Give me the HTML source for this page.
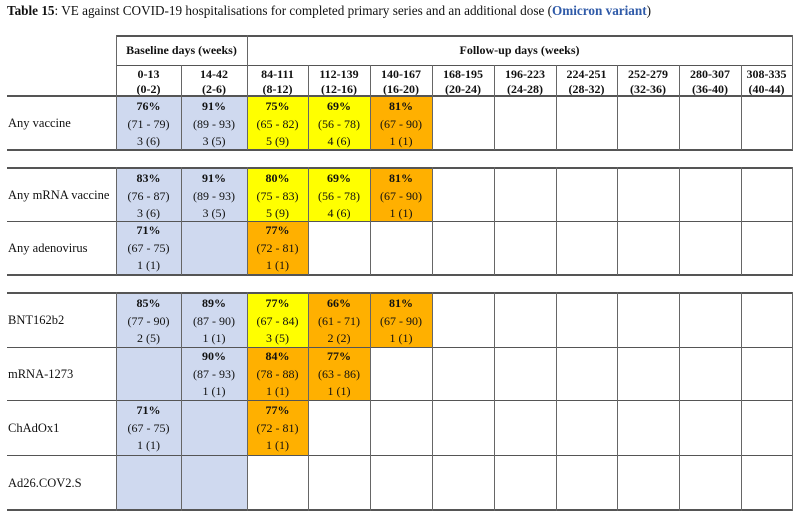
<!DOCTYPE html>
<html><head><meta charset="utf-8"><style>
body{margin:0;width:800px;height:519px;background:#fff;position:relative;overflow:hidden;font-family:"Liberation Serif",serif;color:#111}
.t{position:absolute;left:7px;top:3px;font-size:13.2px;white-space:nowrap}
.c{position:absolute;text-align:center;font-size:12px;line-height:17.5px;padding-top:1px;box-sizing:border-box}
.c b{font-weight:bold}
.B{background:#cfd9ef}.Y{background:#ffff00}.O{background:#ffb000}
.h{position:absolute;height:2px;background:#555}
.v{position:absolute;width:1px;background:#666}
.l{position:absolute;left:8px;font-size:12.5px;line-height:16px}
.hd{position:absolute;text-align:center;font-size:12px;font-weight:bold;line-height:15px}
</style></head><body>
<div class="t"><b>Table 15</b>: VE against COVID-19 hospitalisations for completed primary series and an additional dose (<b style="color:#2f5aa8">Omicron variant</b>)</div>

<div class="hd" style="left:116px;top:43px;width:131px">Baseline days (weeks)</div>
<div class="hd" style="left:247px;top:43px;width:545px">Follow-up days (weeks)</div>
<div class="hd" style="left:116px;top:67px;width:65px">0-13<br>(0-2)</div>
<div class="hd" style="left:181px;top:67px;width:66px">14-42<br>(2-6)</div>
<div class="hd" style="left:247px;top:67px;width:61px">84-111<br>(8-12)</div>
<div class="hd" style="left:308px;top:67px;width:62px">112-139<br>(12-16)</div>
<div class="hd" style="left:370px;top:67px;width:62px">140-167<br>(16-20)</div>
<div class="hd" style="left:432px;top:67px;width:62px">168-195<br>(20-24)</div>
<div class="hd" style="left:494px;top:67px;width:62px">196-223<br>(24-28)</div>
<div class="hd" style="left:556px;top:67px;width:61px">224-251<br>(28-32)</div>
<div class="hd" style="left:617px;top:67px;width:62px">252-279<br>(32-36)</div>
<div class="hd" style="left:679px;top:67px;width:62px">280-307<br>(36-40)</div>
<div class="hd" style="left:741px;top:67px;width:51px">308-335<br>(40-44)</div>

<div class="l" style="top:115px">Any vaccine</div>
<div class="c B" style="left:116px;top:97px;width:65px;height:53px"><b>76%</b><br>(71 - 79)<br>3 (6)</div>
<div class="c B" style="left:181px;top:97px;width:66px;height:53px"><b>91%</b><br>(89 - 93)<br>3 (5)</div>
<div class="c Y" style="left:247px;top:97px;width:61px;height:53px"><b>75%</b><br>(65 - 82)<br>5 (9)</div>
<div class="c Y" style="left:308px;top:97px;width:62px;height:53px"><b>69%</b><br>(56 - 78)<br>4 (6)</div>
<div class="c O" style="left:370px;top:97px;width:62px;height:53px"><b>81%</b><br>(67 - 90)<br>1 (1)</div>

<div class="l" style="top:187px">Any mRNA vaccine</div>
<div class="c B" style="left:116px;top:169px;width:65px;height:52px"><b>83%</b><br>(76 - 87)<br>3 (6)</div>
<div class="c B" style="left:181px;top:169px;width:66px;height:52px"><b>91%</b><br>(89 - 93)<br>3 (5)</div>
<div class="c Y" style="left:247px;top:169px;width:61px;height:52px"><b>80%</b><br>(75 - 83)<br>5 (9)</div>
<div class="c Y" style="left:308px;top:169px;width:62px;height:52px"><b>69%</b><br>(56 - 78)<br>4 (6)</div>
<div class="c O" style="left:370px;top:169px;width:62px;height:52px"><b>81%</b><br>(67 - 90)<br>1 (1)</div>
<div class="l" style="top:240px">Any adenovirus</div>
<div class="c B" style="left:116px;top:221px;width:65px;height:54px"><b>71%</b><br>(67 - 75)<br>1 (1)</div>
<div class="c B" style="left:181px;top:221px;width:66px;height:54px"></div>
<div class="c O" style="left:247px;top:221px;width:61px;height:54px"><b>77%</b><br>(72 - 81)<br>1 (1)</div>

<div class="l" style="top:312px">BNT162b2</div>
<div class="c B" style="left:116px;top:294px;width:65px;height:53px"><b>85%</b><br>(77 - 90)<br>2 (5)</div>
<div class="c B" style="left:181px;top:294px;width:66px;height:53px"><b>89%</b><br>(87 - 90)<br>1 (1)</div>
<div class="c Y" style="left:247px;top:294px;width:61px;height:53px"><b>77%</b><br>(67 - 84)<br>3 (5)</div>
<div class="c O" style="left:308px;top:294px;width:62px;height:53px"><b>66%</b><br>(61 - 71)<br>2 (2)</div>
<div class="c O" style="left:370px;top:294px;width:62px;height:53px"><b>81%</b><br>(67 - 90)<br>1 (1)</div>
<div class="l" style="top:366px">mRNA-1273</div>
<div class="c B" style="left:116px;top:347px;width:65px;height:54px"></div>
<div class="c B" style="left:181px;top:347px;width:66px;height:54px"><b>90%</b><br>(87 - 93)<br>1 (1)</div>
<div class="c O" style="left:247px;top:347px;width:61px;height:54px"><b>84%</b><br>(78 - 88)<br>1 (1)</div>
<div class="c O" style="left:308px;top:347px;width:62px;height:54px"><b>77%</b><br>(63 - 86)<br>1 (1)</div>
<div class="l" style="top:420px">ChAdOx1</div>
<div class="c B" style="left:116px;top:401px;width:65px;height:54px"><b>71%</b><br>(67 - 75)<br>1 (1)</div>
<div class="c B" style="left:181px;top:401px;width:66px;height:54px"></div>
<div class="c O" style="left:247px;top:401px;width:61px;height:54px"><b>77%</b><br>(72 - 81)<br>1 (1)</div>
<div class="l" style="top:475px">Ad26.COV2.S</div>
<div class="c B" style="left:116px;top:455px;width:65px;height:55px"></div>
<div class="c B" style="left:181px;top:455px;width:66px;height:55px"></div>

<div class="h" style="left:116px;top:35px;width:677px"></div>
<div class="h" style="left:116px;top:65px;width:677px;height:1px"></div>
<div class="h" style="left:7px;top:95px;width:786px"></div>
<div class="h" style="left:7px;top:149px;width:786px"></div>
<div class="h" style="left:7px;top:167px;width:786px"></div>
<div class="h" style="left:7px;top:221px;width:786px;height:1px"></div>
<div class="h" style="left:7px;top:274px;width:786px"></div>
<div class="h" style="left:7px;top:292px;width:786px"></div>
<div class="h" style="left:7px;top:347px;width:786px;height:1px"></div>
<div class="h" style="left:7px;top:400px;width:786px;height:1px"></div>
<div class="h" style="left:7px;top:455px;width:786px;height:1px"></div>
<div class="h" style="left:7px;top:509px;width:786px"></div>

<div class="v" style="left:116px;top:35px;height:115px"></div>
<div class="v" style="left:247px;top:35px;height:115px"></div>
<div class="v" style="left:792px;top:35px;height:115px"></div>
<div class="v" style="left:181px;top:65px;height:85px"></div>
<div class="v" style="left:308px;top:65px;height:85px"></div>
<div class="v" style="left:370px;top:65px;height:85px"></div>
<div class="v" style="left:432px;top:65px;height:85px"></div>
<div class="v" style="left:494px;top:65px;height:85px"></div>
<div class="v" style="left:556px;top:65px;height:85px"></div>
<div class="v" style="left:617px;top:65px;height:85px"></div>
<div class="v" style="left:679px;top:65px;height:85px"></div>
<div class="v" style="left:741px;top:65px;height:85px"></div>
<div class="v" style="left:116px;top:167px;height:108px"></div>
<div class="v" style="left:181px;top:167px;height:108px"></div>
<div class="v" style="left:247px;top:167px;height:108px"></div>
<div class="v" style="left:308px;top:167px;height:108px"></div>
<div class="v" style="left:370px;top:167px;height:108px"></div>
<div class="v" style="left:432px;top:167px;height:108px"></div>
<div class="v" style="left:494px;top:167px;height:108px"></div>
<div class="v" style="left:556px;top:167px;height:108px"></div>
<div class="v" style="left:617px;top:167px;height:108px"></div>
<div class="v" style="left:679px;top:167px;height:108px"></div>
<div class="v" style="left:741px;top:167px;height:108px"></div>
<div class="v" style="left:792px;top:167px;height:108px"></div>
<div class="v" style="left:116px;top:292px;height:219px"></div>
<div class="v" style="left:181px;top:292px;height:219px"></div>
<div class="v" style="left:247px;top:292px;height:219px"></div>
<div class="v" style="left:308px;top:292px;height:219px"></div>
<div class="v" style="left:370px;top:292px;height:219px"></div>
<div class="v" style="left:432px;top:292px;height:219px"></div>
<div class="v" style="left:494px;top:292px;height:219px"></div>
<div class="v" style="left:556px;top:292px;height:219px"></div>
<div class="v" style="left:617px;top:292px;height:219px"></div>
<div class="v" style="left:679px;top:292px;height:219px"></div>
<div class="v" style="left:741px;top:292px;height:219px"></div>
<div class="v" style="left:792px;top:292px;height:219px"></div>
</body></html>
